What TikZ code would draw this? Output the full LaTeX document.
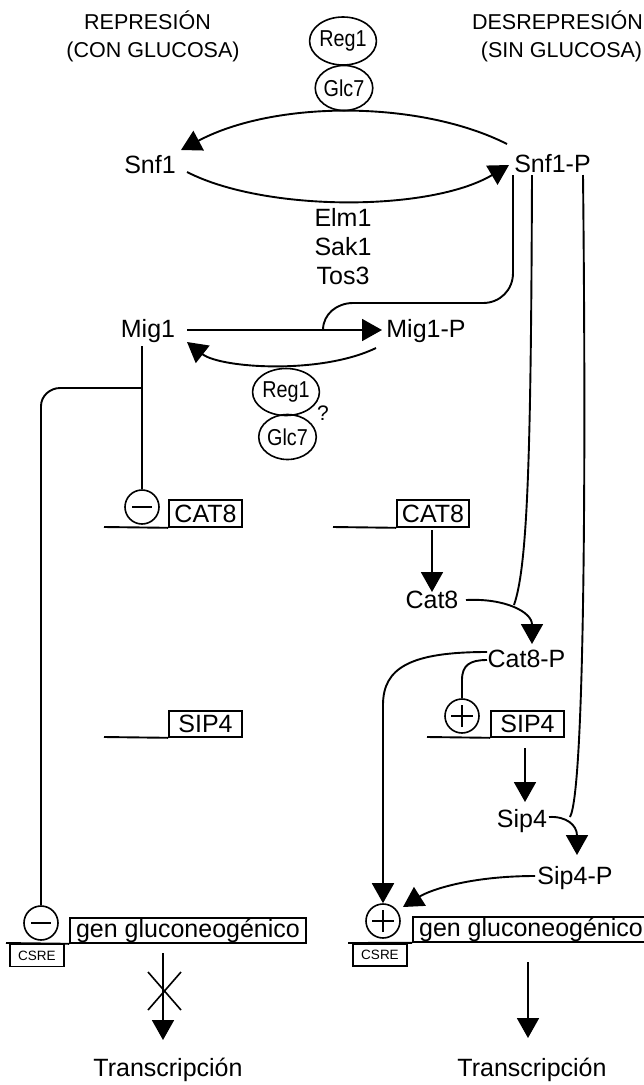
\documentclass[tikz,border=0pt]{standalone}
\usepackage{fontspec}
\usepackage{graphicx}
\setmainfont{Liberation Sans}
\usetikzlibrary{arrows.meta,shapes.geometric}
\newcommand{\enztxt}[1]{\scalebox{0.86}[1]{#1}}
\begin{document}
\begin{tikzpicture}[x=1pt,y=-1pt,
  every node/.style={inner sep=0pt},
  lbl/.style={font=\fontsize{25}{28}\selectfont, anchor=base},
  hdr/.style={font=\fontsize{21.5}{25}\selectfont, anchor=base},
  enz/.style={draw, ellipse, line width=1.6pt, font=\fontsize{23}{24}\selectfont},
  sgn/.style={draw, circle, line width=1.6pt, minimum size=34pt, fill=white},
  minussign/.style={sgn, path picture={\draw[line width=1.6pt] ([xshift=-10pt]path picture bounding box.center) -- ([xshift=10pt]path picture bounding box.center);}},
  plussign/.style={sgn, path picture={\draw[line width=1.6pt] ([xshift=-11pt]path picture bounding box.center) -- ([xshift=11pt]path picture bounding box.center) ([yshift=-11pt]path picture bounding box.center) -- ([yshift=11pt]path picture bounding box.center);}},
  gbox/.style={draw, line width=1.6pt, font=\fontsize{25}{28}\selectfont, minimum height=27pt},
  cbox/.style={draw, line width=1.5pt, font=\fontsize{13.5}{15}\selectfont, minimum width=54pt, minimum height=22pt},
  con/.style={line width=1.9pt},
  arr/.style={con, -{Triangle[length=20pt,width=22pt]}},
  dna/.style={line width=1.9pt}
]
\useasboundingbox (0,0) rectangle (644,1085);
\fill[white] (0,0) rectangle (644,1085);

% headers
\node[hdr] (rep) at (147.5,29) {REPRESIÓN};
\node[hdr] (con) at (153,57) {(CON GLUCOSA)};
\node[hdr] (des) at (557.5,29) {DESREPRESIÓN};
\node[hdr] (sin) at (561.5,57) {(SIN GLUCOSA)};

% top phosphatase
\node[enz, minimum width=57pt, minimum height=48pt] (rega) at (343,41) {\enztxt{Reg1}};
\node[enz, minimum width=52pt, minimum height=45pt] (glca) at (344,88) {\enztxt{Glc7}};

% Snf1
\node[lbl] (snf) at (150,173) {Snf1};
\node[lbl] (snfp) at (552.5,172) {Snf1-P};
\coordinate (ua) at (507,144);
\coordinate (ub) at (181,150);
\draw[arr] (ua) .. controls (420,100) and (275,100) .. (ub);
\coordinate (la) at (187,172);
\coordinate (lb) at (509,165);
\draw[arr] (la) .. controls (265,212) and (430,212) .. (lb);

\node[lbl] (elm) at (343,226) {Elm1};
\node[lbl] (sak) at (343,255) {Sak1};
\node[lbl] (tos) at (343,284) {Tos3};

% Mig1
\node[lbl] (mig) at (148,337) {Mig1};
\node[lbl] (migp) at (426,337) {Mig1-P};
\coordinate (ma) at (187,330);
\coordinate (mb) at (382,330);
\draw[arr] (ma) -- (mb);
\coordinate (sa) at (513,175);
\coordinate (sj) at (323,330);
\draw[con] (sa) -- (513,273) .. controls (513,290) and (500,303) .. (483,303) -- (353,303) .. controls (337,303) and (323,314) .. (sj);
\coordinate (ra) at (376,348);
\coordinate (rb) at (187,342);
\draw[arr] (ra) .. controls (320,375) and (220,368) .. (rb);

\node[enz, minimum width=58pt, minimum height=47pt] (regb) at (286,392) {\enztxt{Reg1}};
\node[enz, minimum width=52pt, minimum height=45pt] (glcb) at (287.5,437) {\enztxt{Glc7}};
\node[font=\fontsize{21}{22}\selectfont] (q) at (323,413) {?};

% left repression lines
\coordinate (mv) at (142,346);
\node[minussign] (m1) at (142,507) {};
\draw[con] (mv) -- (m1.north);
\coordinate (mj) at (142,388);
\node[minussign] (m2) at (41,923) {};
\draw[con] (mj) -- (60,388) .. controls (50,388) and (41,396) .. (41,406) -- (m2.north);

% CAT8 genes
\node[gbox, minimum width=73pt] (c8l) at (205.5,513.5) {CAT8};
\coordinate (c8ls) at (104,527);
\draw[dna] (c8ls) -- (c8l.south west);
\node[gbox, minimum width=72pt] (c8r) at (433,513.5) {CAT8};
\coordinate (c8rs) at (333,527);
\draw[dna] (c8rs) -- (c8r.south west);
\node[lbl] (cat) at (432,608) {Cat8};
\coordinate (c8a) at (432,530);
\coordinate (c8b) at (432,592);
\draw[arr] (c8a) -- (c8b);

% Snf1-P to Cat8
\coordinate (sb) at (532,175);
\coordinate (bj) at (514,605);
\draw[con] (sb) .. controls (531,450) and (528,565) .. (bj);
\coordinate (ca) at (466,600);
\coordinate (cb) at (532,644);
\draw[arr] (ca) .. controls (505,598) and (532,612) .. (cb);
\node[lbl] (catp) at (526.5,667) {Cat8-P};

% Cat8-P activation
\node[plussign] (p1) at (462,716) {};
\coordinate (cpa) at (487,660);
\draw[con] (cpa) .. controls (470,660) and (462,665) .. (462,680) -- (p1.north);
\node[plussign] (p2) at (383,921) {};
\coordinate (cpb) at (487,652);
\draw[arr] (cpb) .. controls (410,652) and (383,668) .. (383,705) -- (p2.north);

% SIP4 genes
\node[gbox, minimum width=73pt, minimum height=26pt] (s4r) at (527.5,724) {SIP4};
\coordinate (s4rs) at (427,737);
\draw[dna] (s4rs) -- (s4r.south west);
\node[gbox, minimum width=73pt, minimum height=26pt] (s4l) at (205.5,724) {SIP4};
\coordinate (s4ls) at (104,737);
\draw[dna] (s4ls) -- (s4l.south west);
\node[lbl] (sip) at (522,827) {Sip4};
\coordinate (sa1) at (525,748);
\coordinate (sa2) at (525,802);
\draw[arr] (sa1) -- (sa2);

% Snf1-P to Sip4
\coordinate (sc) at (583,175);
\coordinate (cj) at (570,817);
\draw[con] (sc) .. controls (586,450) and (585,790) .. (cj);
\coordinate (spa) at (549,817);
\coordinate (spb) at (577,855);
\draw[arr] (spa) .. controls (566,816) and (577,825) .. (spb);
\node[lbl] (sipp) at (575,884) {Sip4-P};
\coordinate (pa) at (535,876);
\coordinate (pb) at (403,907);
\draw[arr] (pa) .. controls (470,876) and (430,890) .. (pb);

% gluconeogenic genes right
\node[gbox, minimum width=236pt, minimum height=25pt] (genr) at (531,929.5) {gen gluconeogénico};
\coordinate (grs) at (348,943);
\draw[dna] (grs) -- (genr.south west);
\node[cbox] (csr) at (380,955) {CSRE};
\coordinate (ta) at (528,962);
\coordinate (tb) at (528,1038);
\draw[arr] (ta) -- (tb);
\node[lbl] (trr) at (532,1076) {Transcripción};

% gluconeogenic genes left
\node[gbox, minimum width=236pt, minimum height=25pt] (genl) at (188,930.5) {gen gluconeogénico};
\coordinate (gls) at (6,943);
\draw[dna] (gls) -- (genl.south west);
\node[cbox] (csl) at (37,955.5) {CSRE};
\coordinate (tla) at (163,953);
\coordinate (tlb) at (163,1040);
\draw[arr] (tla) -- (tlb);
\coordinate (x1) at (148,972);
\coordinate (x2) at (181,1010);
\coordinate (x3) at (181,972);
\coordinate (x4) at (148,1010);
\draw[line width=1.6pt] (x1) -- (x2) (x3) -- (x4);
\node[lbl] (trl) at (168,1076) {Transcripción};
\end{tikzpicture}
\end{document}
